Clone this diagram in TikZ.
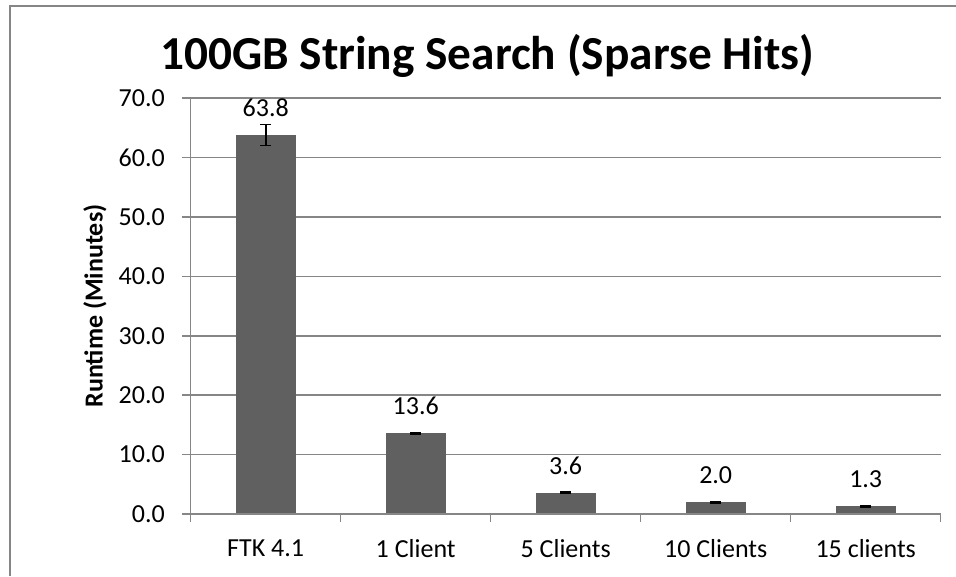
\documentclass[tikz,border=0pt]{standalone}
\usepackage{fontspec}
\setmainfont{Carlito}
\usetikzlibrary{positioning}
\definecolor{bargray}{RGB}{96,96,96}
\definecolor{axisgray}{RGB}{134,134,134}

\begin{document}
\begin{tikzpicture}[
  x=0.75pt, y=-0.75pt,
  font=\fontsize{19.5}{22}\selectfont,
  frame/.style={draw=axisgray, line width=1.5pt},
  gridline/.style={draw=axisgray, line width=1.1pt},
  bar/.style={fill=bargray},
  err/.style={draw=black, line width=1.2pt},
  lbl/.style={inner sep=0pt},
  ttl/.style={font=\fontsize{35.5}{40}\selectfont\bfseries, inner sep=0pt},
  axtitle/.style={font=\fontsize{19.5}{22}\selectfont\bfseries, rotate=90, inner sep=0pt},
]
\useasboundingbox (0,0) rectangle (956,576);

% ---------- Frame & titles ----------
\draw[frame] (10,576) -- (10,5.5) -- (956,5.5);
\node[ttl, anchor=base west] (title) at (160,69) {100GB String Search (Sparse Hits)};
\node[axtitle] (ytitle) at (95,306) {Runtime (Minutes)};

% ---------- Plot area ----------
\begin{scope}[shift={(190.7,514)}, x=112.5pt, y=4.455pt]
  % gridlines & y ticks
  \foreach \v in {0,10,...,70}{
    \draw[gridline] (-0.055,\v) -- (5,\v);
    \node[lbl, anchor=east] (yl\v) at (-0.171,\v) {\v.0};
  }
  \foreach \i in {0,...,5}
    \draw[gridline] (\i,0) -- (\i,-1.35);

  % bars, error bars, labels
  \foreach \i/\val/\e/\txt in {0/63.8/1.77/FTK 4.1, 1/13.6/0.15/1 Client,
                              2/3.6/0.15/5 Clients, 3/2.0/0.1/10 Clients,
                              4/1.3/0.1/15 clients}{
    \fill[bar] (\i+0.3,0) rectangle (\i+0.7,\val);
    \draw[err] (\i+0.5,\val-\e) -- (\i+0.5,\val+\e)
               (\i+0.463,\val-\e) -- (\i+0.537,\val-\e)
               (\i+0.463,\val+\e) -- (\i+0.537,\val+\e);
    \node[lbl] (v\i) at (\i+0.5,\val+4.55) {\val};
    \node[lbl] (c\i) at (\i+0.5,-5.8) {\txt};
  }
  \draw[gridline] (0,0) -- (0,70);
  \draw[gridline] (0,0) -- (5,0);
\end{scope}
\end{tikzpicture}
\end{document}
